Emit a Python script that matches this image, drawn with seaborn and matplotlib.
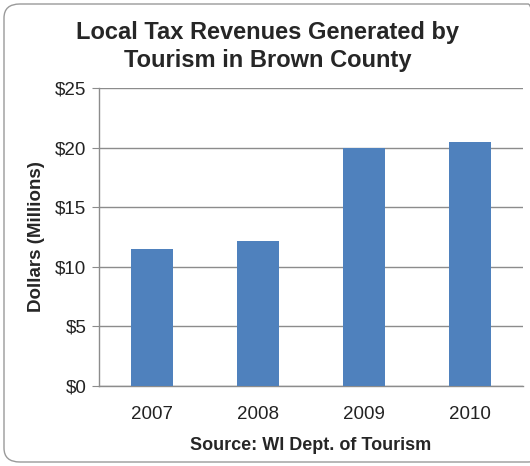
import matplotlib
matplotlib.use("Agg")
import matplotlib.pyplot as plt
from matplotlib.patches import FancyBboxPatch
import seaborn as sns
import pandas as pd

# ---- data ----
years = ["2007", "2008", "2009", "2010"]
revenue = [11.5, 12.2, 20.0, 20.45]   # $ millions
y_ticks = [0, 5, 10, 15, 20, 25]
y_tick_labels = ["$0", "$5", "$10", "$15", "$20", "$25"]

df = pd.DataFrame({"year": years, "revenue": revenue})

sns.set_style("white")
plt.rcParams["font.family"] = ["Liberation Sans", "DejaVu Sans"]

fig = plt.figure(figsize=(5.3, 4.66), dpi=100)
ax = fig.add_axes([0.1868, 0.1717, 0.80, 0.6395])

sns.barplot(data=df, x="year", y="revenue", color="#4F81BD", saturation=1,
            width=0.4, ax=ax, zorder=3, linewidth=0)

ax.set_ylim(0, 25)
ax.set_xlim(-0.5, 3.5)
ax.set_yticks(y_ticks)
ax.set_yticklabels(y_tick_labels)
ax.yaxis.grid(True, color="#8c8c8c", linewidth=1, zorder=0)
ax.set_axisbelow(True)

for s in ["top", "right"]:
    ax.spines[s].set_visible(False)
for s in ["left", "bottom"]:
    ax.spines[s].set_color("#8c8c8c")
    ax.spines[s].set_linewidth(1)

ax.tick_params(axis="y", which="both", left=True, length=5, color="#8c8c8c",
               labelsize=13.5, pad=4, labelcolor="#222222")
ax.tick_params(axis="x", bottom=False, labelsize=13.5, pad=11, labelcolor="#222222")

ax.set_xlabel("Source: WI Dept. of Tourism", fontsize=13, fontweight="bold",
              labelpad=10)
ax.set_ylabel("Dollars (Millions)", fontsize=13.5, fontweight="bold", labelpad=7)

fig.text(0.505, 0.9, "Local Tax Revenues Generated by\nTourism in Brown County",
         ha="center", va="center", fontsize=17, fontweight="bold",
         linespacing=1.25)

# rounded chart border
frame = FancyBboxPatch((4 / 530, 4 / 466), 540 / 530, 458 / 466,
                       boxstyle="round,pad=0,rounding_size=0.03",
                       transform=fig.transFigure, facecolor="none",
                       edgecolor="#9a9a9a", linewidth=1, clip_on=False)
fig.patches.append(frame)

fig.savefig("out.png", dpi=100)
